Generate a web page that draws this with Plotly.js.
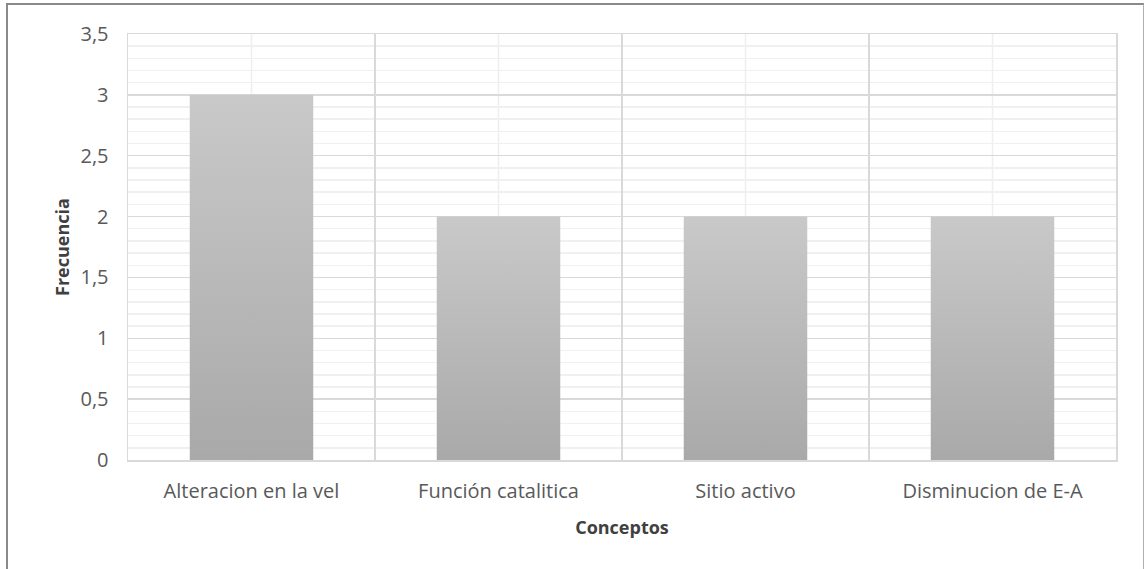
<!DOCTYPE html>
<html>
<head>
<meta charset="utf-8">
<script src="https://cdn.plot.ly/plotly-3.0.1.min.js"></script>
<style>
  html, body { margin: 0; padding: 0; background: #ffffff; }
  #wrap { position: relative; width: 1145px; height: 569px; overflow: hidden; }
  #chart { position: absolute; left: 0; top: 0; width: 1145px; height: 569px; }
  #frame {
    position: absolute; left: 6px; top: 3px; width: 1138px; height: 600px;
    border: 1px solid #8a8a8a; border-left-width: 2px; border-top-width: 2px;
    border-right-color: #b0b0b0;
    box-sizing: border-box; pointer-events: none;
  }
</style>
</head>
<body>
<div id="wrap">
  <div id="chart"></div>
  <div id="frame"></div>
</div>
<script>
// Frequency of each concept
const conceptos = ['Alteracion en la vel', 'Función catalitica', 'Sitio activo', 'Disminucion de E-A'];
const frecuencia = [3, 2, 2, 2];

const FONT = 'Open Sans, Noto Sans, sans-serif';

const trace = {
  type: 'bar',
  x: conceptos,
  y: frecuencia,
  marker: { color: '#b8b8b8', line: { width: 0 } },
  hoverinfo: 'x+y'
};

// light lines through the middle of each category
const centerLines = conceptos.map(c => ({
  type: 'line', xref: 'x', yref: 'paper', x0: c, x1: c, y0: 0, y1: 1,
  line: { color: '#eeeeee', width: 1.5 }, layer: 'below'
}));

const layout = {
  width: 1145, height: 569,
  margin: { l: 128, r: 29, t: 34, b: 109 },
  paper_bgcolor: '#ffffff', plot_bgcolor: '#ffffff',
  separators: ',.',
  bargap: 0.5,
  showlegend: false,
  font: { family: FONT, color: '#595959', size: 20 },
  xaxis: {
    type: 'category',
    tickson: 'boundaries',
    showgrid: true, gridcolor: '#d9d9d9', gridwidth: 1.5,
    ticks: '', showline: true, linecolor: '#d9d9d9', linewidth: 1.5, mirror: true,
    tickfont: { family: FONT, size: 20, color: '#595959' },
    ticklabelstandoff: 12,
    title: { text: 'Conceptos', font: { family: FONT, size: 18, color: '#404040', weight: 'bold' }, standoff: 19 }
  },
  yaxis: {
    range: [0, 3.5], dtick: 0.5, tick0: 0,
    showgrid: true, gridcolor: '#d9d9d9', gridwidth: 1.5,
    minor: { dtick: 0.1, showgrid: true, gridcolor: '#f0f0f0', gridwidth: 1.5 },
    zeroline: false,
    ticks: '', showline: true, linecolor: '#d9d9d9', linewidth: 1.5, mirror: true,
    tickfont: { family: FONT, size: 20, color: '#595959' },
    ticklabelstandoff: 14,
    title: { text: 'Frecuencia', font: { family: FONT, size: 18, color: '#404040', weight: 'bold' }, standoff: 6 }
  },
  shapes: centerLines
};

Plotly.newPlot('chart', [trace], layout, { staticPlot: true, displayModeBar: false }).then(gd => {
  // vertical grey gradient on each bar
  const svg = gd.querySelector('.main-svg');
  const ns = 'http://www.w3.org/2000/svg';
  let defs = svg.querySelector('defs');
  if (!defs) { defs = document.createElementNS(ns, 'defs'); svg.insertBefore(defs, svg.firstChild); }
  const grad = document.createElementNS(ns, 'linearGradient');
  grad.setAttribute('id', 'barShade');
  grad.setAttribute('x1', '0'); grad.setAttribute('y1', '0');
  grad.setAttribute('x2', '0'); grad.setAttribute('y2', '1');
  [['0%', '#c9c9c9'], ['100%', '#a9a9a9']].forEach(([o, c]) => {
    const s = document.createElementNS(ns, 'stop');
    s.setAttribute('offset', o); s.setAttribute('stop-color', c);
    grad.appendChild(s);
  });
  defs.appendChild(grad);
  gd.querySelectorAll('.trace.bars .point path').forEach(p => { p.style.fill = 'url(#barShade)'; });
});
</script>
</body>
</html>
